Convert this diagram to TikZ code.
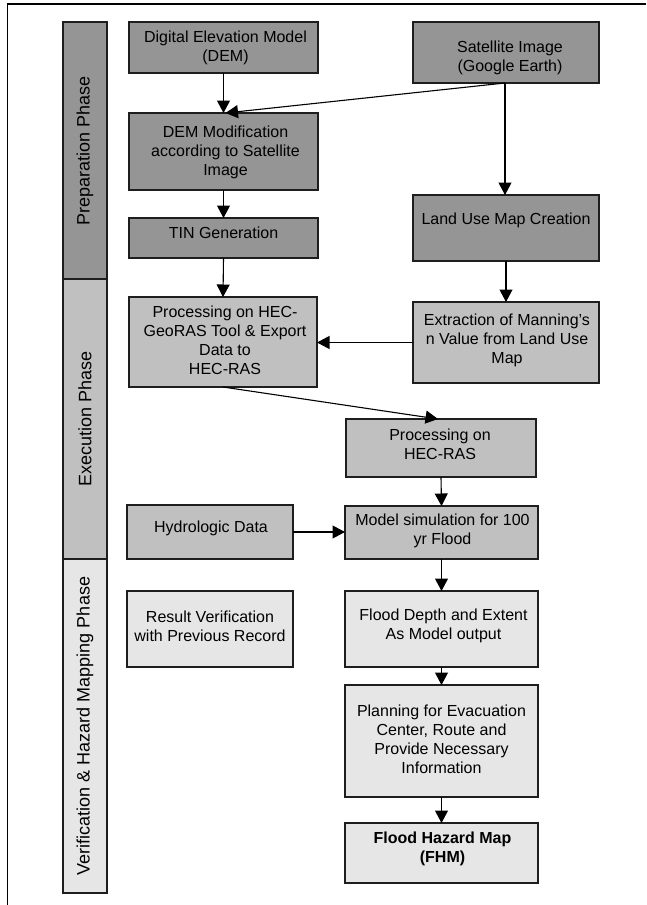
\documentclass[tikz,border=0pt]{standalone}
\usepackage{fontspec}
\setmainfont{Liberation Sans}
\usetikzlibrary{arrows.meta}
\definecolor{prepc}{HTML}{959595}
\definecolor{execc}{HTML}{C0C0C0}
\definecolor{verc}{HTML}{E6E6E6}
\definecolor{edgec}{HTML}{1E1E1E}
\begin{document}
\begin{tikzpicture}[x=1pt,y=-1pt,
  box/.style={draw=edgec, line width=1.3pt, rectangle, anchor=north west, inner sep=0pt, outer sep=0pt},
  phasebar/.style={draw=edgec, line width=1.3pt, rectangle, anchor=north west, inner sep=0pt, outer sep=0pt, minimum width=44pt},
  txt/.style={align=center, font=\fontsize{16}{19}\selectfont, inner sep=0pt},
  phtxt/.style={rotate=90, font=\fontsize{18}{21}\selectfont, inner sep=0pt},
  arr/.style={line width=1.1pt, -{Triangle[length=12.5pt,width=13pt]}}
]
\useasboundingbox (0,0) rectangle (646,905);
% frame
\draw[line width=1.3pt] (646,4) -- (7.5,4) -- (7.5,905);

% phase bars
\node[phasebar, fill=prepc, minimum height=257pt] (pprep) at (63,22) {};
\node[phasebar, fill=execc, minimum height=280pt] (pexec) at (63,279) {};
\node[phasebar, fill=verc, minimum height=334pt] (pver) at (63,559) {};
\node[phtxt] at (pprep.center) {Preparation Phase};
\node[phtxt] at (pexec.center) {Execution Phase};
\node[phtxt] at (pver.center) {Verification \& Hazard Mapping Phase};

% boxes
\node[box, fill=prepc, minimum width=189pt, minimum height=51pt] (dem) at (129,22) {};
\node[box, fill=prepc, minimum width=186pt, minimum height=61pt] (sat) at (413,22) {};
\node[box, fill=prepc, minimum width=189pt, minimum height=77pt] (demmod) at (129,113) {};
\node[box, fill=prepc, minimum width=189pt, minimum height=40pt] (tin) at (129,218) {};
\node[box, fill=prepc, minimum width=186pt, minimum height=66pt] (land) at (413,195) {};
\node[box, fill=execc, minimum width=188pt, minimum height=90pt] (geo) at (129,297) {};
\node[box, fill=execc, minimum width=186pt, minimum height=81pt] (ext) at (413,302) {};
\node[box, fill=execc, minimum width=190pt, minimum height=58pt] (hecras) at (346,419) {};
\node[box, fill=execc, minimum width=166pt, minimum height=54pt] (hydro) at (127,505) {};
\node[box, fill=execc, minimum width=193pt, minimum height=53pt] (model) at (345,506) {};
\node[box, fill=verc, minimum width=166pt, minimum height=76pt] (result) at (127,591) {};
\node[box, fill=verc, minimum width=193pt, minimum height=76pt] (flood) at (345,591) {};
\node[box, fill=verc, minimum width=193pt, minimum height=112pt] (plan) at (345,685) {};
\node[box, fill=verc, minimum width=193pt, minimum height=60pt] (fhm) at (345,823) {};

% texts
\node[txt, xshift=2pt] at (dem.center) {Digital Elevation Model\\(DEM)};
\node[txt, xshift=4pt, yshift=-5pt] at (sat.center) {Satellite Image\\(Google Earth)};
\node[txt, xshift=2pt, yshift=-1pt] at (demmod.center) {DEM Modification\\according to Satellite\\Image};
\node[txt, yshift=5pt] at (tin.center) {TIN Generation};
\node[txt, yshift=8pt] at (land.center) {Land Use Map Creation};
\node[txt, xshift=2pt, yshift=2pt] at (geo.center) {Processing on HEC-\\GeoRAS Tool \& Export\\Data to\\HEC-RAS};
\node[txt, xshift=1pt, yshift=2pt] at (ext.center) {Extraction of Manning’s\\n Value from Land Use\\Map};
\node[txt, xshift=-1pt, yshift=4pt] at (hecras.center) {Processing on\\HEC-RAS};
\node[txt, xshift=1pt, yshift=4pt] at (hydro.center) {Hydrologic Data};
\node[txt, xshift=1pt, yshift=1.5pt] at (model.center) {Model simulation for 100\\yr Flood};
\node[txt, xshift=0pt, yshift=3pt] at (result.center) {Result Verification\\with Previous Record};
\node[txt, xshift=2pt, yshift=3pt] at (flood.center) {Flood Depth and Extent\\As Model output};
\node[txt, xshift=0pt, yshift=2pt] at (plan.center) {Planning for Evacuation\\Center, Route and\\Provide Necessary\\Information};
\node[txt, font=\fontsize{16}{19}\selectfont\bfseries, xshift=1pt, yshift=4.5pt] at (fhm.center) {Flood Hazard Map\\(FHM)};

% connectors
\draw[arr] (dem.south) -- (demmod.north);
\draw[arr] ([xshift=-1pt]sat.south) -- ([xshift=2pt]demmod.north);
\draw[arr] ([xshift=-1pt]sat.south) -- ([xshift=-1pt]land.north);
\draw[arr] (demmod.south) -- (tin.north);
\draw[arr] (tin.south) -- (geo.north);
\draw[arr] (land.south) -- (ext.north);
\draw[arr] (ext.west) -- (geo.east |- ext.west);
\draw[arr] (geo.south) -- ([xshift=-3pt]hecras.north);
\draw[arr] (hecras.south) -- (model.north |- model.north);
\draw[arr] (hydro.east) -- (model.west |- hydro.east);
\draw[arr] (model.south) -- (flood.north);
\draw[arr] (flood.south) -- (plan.north);
\draw[arr] (plan.south) -- (fhm.north);
\end{tikzpicture}
\end{document}
